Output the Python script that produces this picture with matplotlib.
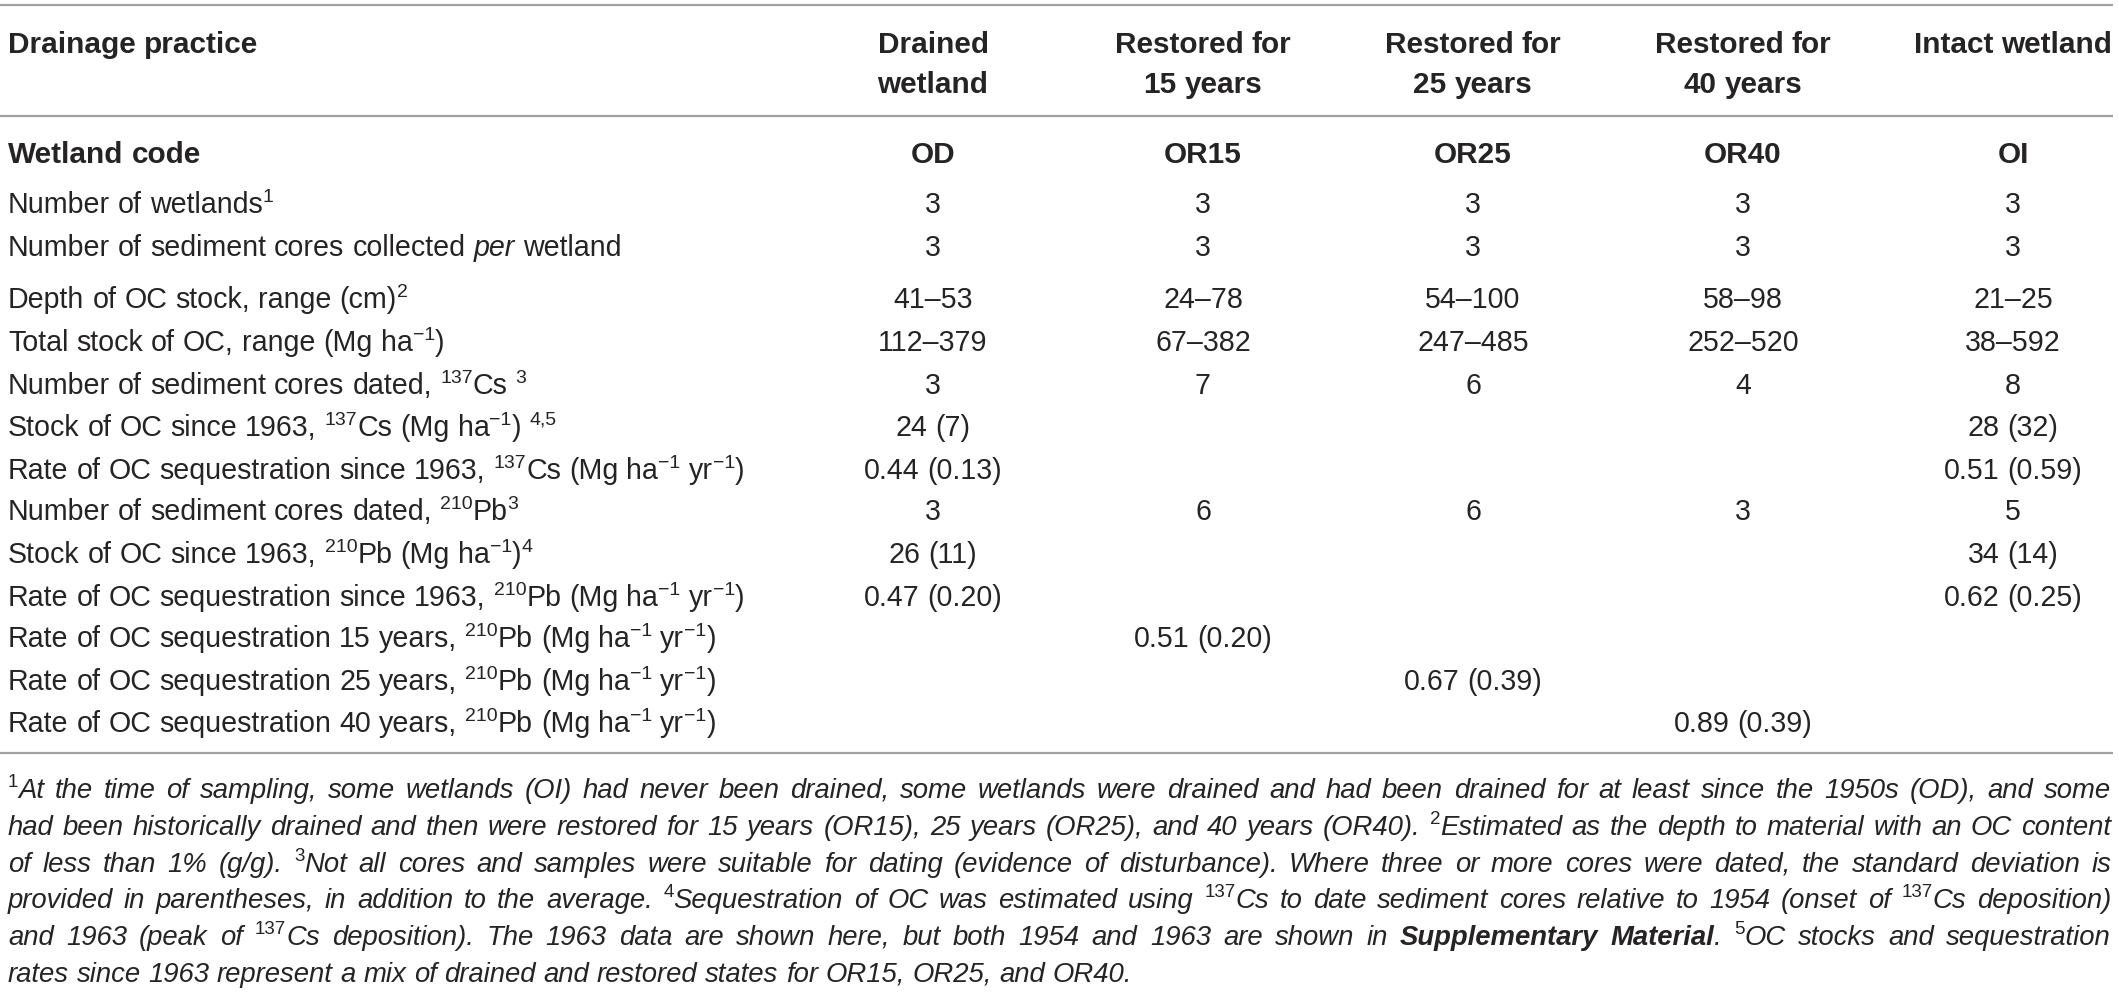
import re
import matplotlib
matplotlib.use('Agg')
import matplotlib.pyplot as plt

W, H = 2119, 994
INK = '#262324'
RULE = '#a0a0a0'
FONT = ['Liberation Sans', 'DejaVu Sans']

# table content
practices = ['Drained\nwetland', 'Restored for\n15 years', 'Restored for\n25 years',
             'Restored for\n40 years', 'Intact wetland']
codes = ['OD', 'OR15', 'OR25', 'OR40', 'OI']

row_labels = [
    'Number of wetlands^{1}',
    'Number of sediment cores collected __per__ wetland',
    'Depth of OC stock, range (cm)^{2}',
    'Total stock of OC, range (Mg ha^{\u22121})',
    'Number of sediment cores dated, ^{137}Cs ^{3}',
    'Stock of OC since 1963, ^{137}Cs (Mg ha^{\u22121}) ^{4,5}',
    'Rate of OC sequestration since 1963, ^{137}Cs (Mg ha^{\u22121} yr^{\u22121})',
    'Number of sediment cores dated, ^{210}Pb^{3}',
    'Stock of OC since 1963, ^{210}Pb (Mg ha^{\u22121})^{4}',
    'Rate of OC sequestration since 1963, ^{210}Pb (Mg ha^{\u22121} yr^{\u22121})',
    'Rate of OC sequestration 15 years, ^{210}Pb (Mg ha^{\u22121} yr^{\u22121})',
    'Rate of OC sequestration 25 years, ^{210}Pb (Mg ha^{\u22121} yr^{\u22121})',
    'Rate of OC sequestration 40 years, ^{210}Pb (Mg ha^{\u22121} yr^{\u22121})',
]

number_wetlands = ['3', '3', '3', '3', '3']
cores_per_wetland = ['3', '3', '3', '3', '3']
depth_range = ['41\u201353', '24\u201378', '54\u2013100', '58\u201398', '21\u201325']
total_stock = ['112\u2013379', '67\u2013382', '247\u2013485', '252\u2013520', '38\u2013592']
cs_cores = ['3', '7', '6', '4', '8']
cs_stock = ['24 (7)', '', '', '', '28 (32)']
cs_rate = ['0.44 (0.13)', '', '', '', '0.51 (0.59)']
pb_cores = ['3', '6', '6', '3', '5']
pb_stock = ['26 (11)', '', '', '', '34 (14)']
pb_rate = ['0.47 (0.20)', '', '', '', '0.62 (0.25)']
rate_15 = ['', '0.51 (0.20)', '', '', '']
rate_25 = ['', '', '0.67 (0.39)', '', '']
rate_40 = ['', '', '', '0.89 (0.39)', '']
rows = [number_wetlands, cores_per_wetland, depth_range, total_stock, cs_cores,
        cs_stock, cs_rate, pb_cores, pb_stock, pb_rate, rate_15, rate_25, rate_40]

footnote_lines = [
    '^{1}At the time of sampling, some wetlands (OI) had never been drained, some wetlands were drained '
    'and had been drained for at least since the 1950s (OD), and some',
    'had been historically drained and then were restored for 15 years (OR15), 25 years (OR25), and 40 years '
    '(OR40). ^{2}Estimated as the depth to material with an OC content',
    'of less than 1% (g/g). ^{3}Not all cores and samples were suitable for dating (evidence of disturbance). '
    'Where three or more cores were dated, the standard deviation is',
    'provided in parentheses, in addition to the average. ^{4}Sequestration of OC was estimated using ^{137}Cs '
    'to date sediment cores relative to 1954 (onset of ^{137}Cs deposition)',
    'and 1963 (peak of ^{137}Cs deposition). The 1963 data are shown here, but both 1954 and 1963 are shown in '
    '**Supplementary Material**. ^{5}OC stocks and sequestration',
    'rates since 1963 represent a mix of drained and restored states for OR15, OR25, and OR40.',
]

# layout (pixels)
col_x = [933, 1203, 1473, 1743, 2013]
left_x = 8
right_x = 2111
rule_y = [5, 116, 753]
head_y = [42, 82]
code_y = 152
row_y = [203, 246, 298, 341, 384, 426, 469, 510, 553, 596, 637, 680, 722]
note_y = [788, 825, 862, 898, 935, 972]
HEAD_SIZE = 21.4
BODY_SIZE = 20.6
NOTE_MAX = 20.3

fig = plt.figure(figsize=(W / 100, H / 100), dpi=100)
ax = fig.add_axes([0, 0, 1, 1])
ax.set_xlim(0, W)
ax.set_ylim(H, 0)
ax.set_axis_off()
renderer = fig.canvas.get_renderer()


def em(size):
    return size * 100 / 72.0


def parse(markup, italic=False, bold=False):
    runs = []
    for p in re.split(r'(\^\{[^}]*\}|\*\*|__)', markup):
        if not p:
            continue
        if p == '**':
            bold = not bold
        elif p == '__':
            italic = not italic
        elif p.startswith('^{'):
            runs.append((p[2:-1], False, False, True))
        else:
            runs.append((p, bold, italic, False))
    return runs


def split_words(runs):
    words = [[]]
    for text, b, i, sup in runs:
        for k, piece in enumerate(text.split(' ')):
            if k > 0:
                words.append([])
            if piece:
                words[-1].append((piece, b, i, sup))
    return [w for w in words if w]


def make_run(text, b, i, sup, size):
    t = ax.text(0, 0, text, fontsize=size * (0.68 if sup else 1.0),
                fontweight='bold' if b else 'normal',
                fontstyle='italic' if i else 'normal',
                family=FONT, color=INK, ha='left', va='baseline')
    return t, t.get_window_extent(renderer).width, sup


def space_width(size, italic):
    st = 'italic' if italic else 'normal'
    a = ax.text(0, 0, 'x x', fontsize=size, family=FONT, fontstyle=st)
    b = ax.text(0, 0, 'xx', fontsize=size, family=FONT, fontstyle=st)
    w = a.get_window_extent(renderer).width - b.get_window_extent(renderer).width
    a.remove()
    b.remove()
    return w


def draw_line(markup, x, center_y, size, align='left', italic=False, bold=False, width=None):
    words = [[make_run(*r, size) for r in w] for w in split_words(parse(markup, italic, bold))]
    wlen = [sum(r[1] for r in w) for w in words]
    gap = space_width(size, italic)
    total = sum(wlen) + gap * (len(words) - 1)
    if align == 'center':
        x = x - total / 2
    elif align == 'justify' and len(words) > 1:
        gap = (width - sum(wlen)) / (len(words) - 1)
    base = center_y + 0.36 * em(size)
    for w, wl in zip(words, wlen):
        cx = x
        for t, tw, sup in w:
            t.set_position((cx, base - 0.40 * em(size) if sup else base))
            cx += tw
        x += wl + gap
    return total


def natural_width(markup, size, italic=False):
    runs = split_words(parse(markup, italic))
    total = space_width(size, italic) * (len(runs) - 1)
    for w in runs:
        for r in w:
            t, tw, _ = make_run(*r, size)
            total += tw
            t.remove()
    return total


# footnote size: as large as the reference, but every line must still fit the width
trial = 16.0
widest = max(natural_width(l, trial, italic=True) for l in footnote_lines[:-1])
NOTE_SIZE = min(NOTE_MAX, trial * (right_x - left_x) * 0.985 / widest)

# rules
for y in rule_y:
    ax.plot([0, 2113], [y, y], color=RULE, lw=1.6, solid_capstyle='butt')

# header
draw_line('Drainage practice', left_x, head_y[0], HEAD_SIZE, bold=True)
for cx, name in zip(col_x, practices):
    for k, part in enumerate(name.split('\n')):
        draw_line(part, cx, head_y[k], HEAD_SIZE, align='center', bold=True)

draw_line('Wetland code', left_x, code_y, HEAD_SIZE, bold=True)
for cx, code in zip(col_x, codes):
    draw_line(code, cx, code_y, HEAD_SIZE, align='center', bold=True)

# body
for y, label, vals in zip(row_y, row_labels, rows):
    draw_line(label, left_x, y, BODY_SIZE)
    for cx, v in zip(col_x, vals):
        if v:
            draw_line(v, cx, y, BODY_SIZE, align='center')

# footnotes (justified, last line left)
for k, (y, line) in enumerate(zip(note_y, footnote_lines)):
    last = k == len(footnote_lines) - 1
    draw_line(line, left_x, y, NOTE_SIZE, align='left' if last else 'justify',
              italic=True, width=right_x - left_x)

fig.savefig('out.png', dpi=100)
